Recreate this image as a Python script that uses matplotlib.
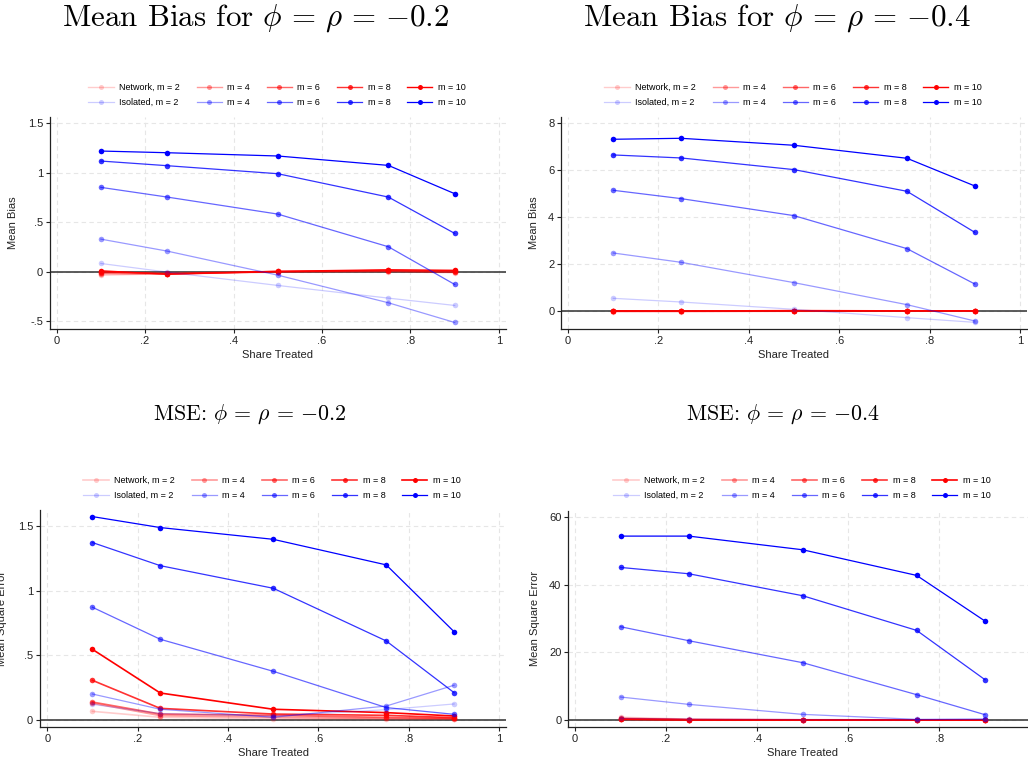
import matplotlib
matplotlib.use("Agg")
import matplotlib.pyplot as plt

# ---------------------------------------------------------------- data
share = [0.1, 0.25, 0.5, 0.75, 0.9]
m_values = [2, 4, 6, 8, 10]
x_ticks = [0, 0.2, 0.4, 0.6, 0.8, 1]
x_tick_labels = ["0", ".2", ".4", ".6", ".8", "1"]

# Mean bias, phi = rho = -0.2 (rows: m = 2, 4, 6, 8, 10)
bias02_network = [
    [-0.035, -0.020, -0.005, 0.000, -0.010],
    [-0.020, -0.025, 0.000, 0.005, -0.005],
    [-0.010, -0.015, 0.005, 0.010, 0.000],
    [0.000, -0.020, 0.000, 0.015, 0.010],
    [0.010, -0.025, 0.005, 0.020, 0.015],
]
bias02_isolated = [
    [0.084, -0.003, -0.138, -0.266, -0.340],
    [0.330, 0.209, -0.034, -0.313, -0.512],
    [0.853, 0.755, 0.583, 0.253, -0.128],
    [1.119, 1.072, 0.991, 0.755, 0.388],
    [1.220, 1.203, 1.170, 1.075, 0.789],
]

# Mean bias, phi = rho = -0.4
bias04_network = [
    [-0.03, -0.03, -0.02, -0.01, -0.01],
    [-0.02, -0.02, -0.01, 0.00, 0.00],
    [-0.01, -0.01, 0.00, 0.00, 0.00],
    [0.00, 0.00, 0.01, 0.01, 0.01],
    [0.01, 0.00, 0.02, 0.01, 0.01],
]
bias04_isolated = [
    [0.540, 0.384, 0.071, -0.284, -0.483],
    [2.472, 2.075, 1.208, 0.270, -0.426],
    [5.144, 4.789, 4.064, 2.657, 1.151],
    [6.650, 6.522, 6.025, 5.101, 3.353],
    [7.318, 7.360, 7.062, 6.508, 5.329],
]

# Mean square error, phi = rho = -0.2
mse02_network = [
    [0.067, 0.021, 0.010, 0.008, 0.006],
    [0.130, 0.034, 0.021, 0.012, 0.010],
    [0.139, 0.046, 0.036, 0.020, 0.012],
    [0.307, 0.090, 0.046, 0.036, 0.018],
    [0.547, 0.209, 0.083, 0.057, 0.031],
]
mse02_isolated = [
    [0.121, 0.050, 0.030, 0.080, 0.124],
    [0.201, 0.083, 0.021, 0.108, 0.269],
    [0.873, 0.625, 0.377, 0.096, 0.044],
    [1.374, 1.195, 1.020, 0.612, 0.212],
    [1.575, 1.490, 1.399, 1.201, 0.684],
]

# Mean square error, phi = rho = -0.4
mse04_network = [
    [0.80, 0.25, 0.10, 0.05, 0.05],
    [0.50, 0.15, 0.06, 0.03, 0.03],
    [0.35, 0.10, 0.04, 0.02, 0.02],
    [0.25, 0.07, 0.03, 0.02, 0.01],
    [0.20, 0.06, 0.03, 0.01, 0.01],
]
mse04_isolated = [
    [0.50, 0.30, 0.15, 0.10, 0.20],
    [6.79, 4.62, 1.67, 0.20, 0.30],
    [27.54, 23.41, 16.92, 7.48, 1.57],
    [45.05, 43.18, 36.69, 26.46, 11.90],
    [54.30, 54.30, 50.26, 42.69, 29.21],
]

network_labels = ["Network, m = 2", "m = 4", "m = 6", "m = 8", "m = 10"]
isolated_labels = ["Isolated, m = 2", "m = 4", "m = 6", "m = 8", "m = 10"]

# ---------------------------------------------------------------- style
plt.rcParams["font.family"] = ["Liberation Sans", "DejaVu Sans"]
plt.rcParams["mathtext.fontset"] = "cm"

W, H = 1028, 765
fig = plt.figure(figsize=(W / 100, H / 100), dpi=100)

opacity = [0.2, 0.4, 0.6, 0.8, 1.0]
RED = (1.0, 0.0, 0.0)
BLUE = (0.0, 0.0, 1.0)


def px_rect(x0, y0, x1, y1):
    """Axes rectangle from pixel corners (top-left origin)."""
    return [x0 / W, 1 - y1 / H, (x1 - x0) / W, (y1 - y0) / H]


panels = [
    dict(rect=px_rect(50, 116.7, 506, 329), xlim=(-0.015, 1.016), ylim=(-0.578, 1.567),
         yticks=[-0.5, 0, 0.5, 1, 1.5], ylabels=["-.5", "0", ".5", "1", "1.5"],
         ylabel="Mean Bias", ylabel_x=-0.081, net=bias02_network, iso=bias02_isolated,
         title=r"Mean Bias for $\phi\,=\,\rho\,=\,{-}0.2$", title_xy=(256, 26),
         title_size=22.3, legend_xy=(277, 95), red_lw=1.0),
    dict(rect=px_rect(561.3, 116.7, 1026.7, 329.3), xlim=(-0.015, 1.015), ylim=(-0.78, 8.28),
         yticks=[0, 2, 4, 6, 8], ylabels=["0", "2", "4", "6", "8"],
         ylabel="Mean Bias", ylabel_x=-0.0587, net=bias04_network, iso=bias04_isolated,
         title=r"Mean Bias for $\phi\,=\,\rho\,=\,{-}0.4$", title_xy=(777, 26),
         title_size=22.3, legend_xy=(793, 95), red_lw=1.0),
    dict(rect=px_rect(40, 510, 506, 726.7), xlim=(-0.016, 1.015), ylim=(-0.052, 1.626),
         yticks=[0, 0.5, 1, 1.5], ylabels=["0", ".5", "1", "1.5"],
         ylabel="Mean Square Error", ylabel_x=-0.0826, net=mse02_network, iso=mse02_isolated,
         title=r"MSE: $\phi\,=\,\rho\,=\,{-}0.2$", title_xy=(250, 420), title_size=15.8,
         legend_xy=(272, 488), red_lw=1.2),
    dict(rect=px_rect(568.3, 510.7, 1037.4, 726.7), xlim=(-0.0147, 1.015), ylim=(-1.97, 61.8),
         yticks=[0, 20, 40, 60], ylabels=["0", "20", "40", "60"],
         ylabel="Mean Square Error", ylabel_x=-0.0716, net=mse04_network, iso=mse04_isolated,
         title=r"MSE: $\phi\,=\,\rho\,=\,{-}0.4$", title_xy=(783, 420), title_size=15.8,
         legend_xy=(802, 488), red_lw=1.2),
]

for p in panels:
    ax = fig.add_axes(p["rect"])
    ax.set_xlim(*p["xlim"])
    ax.set_ylim(*p["ylim"])

    ax.axhline(0, color="#303030", lw=1.1, zorder=1.5)

    net_lines, iso_lines = [], []
    for k in range(len(m_values)):
        (ln,) = ax.plot(share, p["net"][k], color=RED, alpha=opacity[k], lw=p["red_lw"],
                        marker="o", ms=4.0, mew=0, zorder=2)
        net_lines.append(ln)
    for k in range(len(m_values)):
        (ln,) = ax.plot(share, p["iso"][k], color=BLUE, alpha=opacity[k], lw=0.9,
                        marker="o", ms=4.0, mew=0, zorder=2)
        iso_lines.append(ln)

    handles, labels = [], []
    for k in range(len(m_values)):
        handles += [net_lines[k], iso_lines[k]]
        labels += [network_labels[k], isolated_labels[k]]
    ax.legend(handles, labels, ncol=5, loc="center",
              bbox_to_anchor=(p["legend_xy"][0] / W, 1 - p["legend_xy"][1] / H),
              bbox_transform=fig.transFigure, frameon=False, fontsize=6.5,
              handlelength=2.8, handletextpad=0.6, columnspacing=1.85,
              labelspacing=0.72, borderpad=0, borderaxespad=0, markerscale=0.9)

    # only ticks that fall inside the drawn figure area
    span = p["xlim"][1] - p["xlim"][0]
    shown = [(t, lab) for t, lab in zip(x_ticks, x_tick_labels)
             if p["rect"][0] + (t - p["xlim"][0]) / span * p["rect"][2] < 1.0]
    ax.set_xticks([t for t, _ in shown], [lab for _, lab in shown])
    ax.set_yticks(p["yticks"], p["ylabels"])
    ax.tick_params(axis="both", direction="out", length=3, width=0.8, pad=2,
                   labelsize=8, colors="#222222")
    ax.grid(True, color="#e6e6e6", ls=(0, (4, 3)), lw=0.8)
    ax.set_axisbelow(True)

    for side in ("top", "right"):
        ax.spines[side].set_visible(False)
    for side in ("left", "bottom"):
        ax.spines[side].set_linewidth(0.9)
        ax.spines[side].set_color("#222222")

    ax.set_xlabel("Share Treated", fontsize=8, color="#222222")
    ax.xaxis.set_label_coords(0.5, -0.123)
    ax.xaxis.label.set_va("center")
    ax.set_ylabel(p["ylabel"], fontsize=8, color="#222222")
    ax.yaxis.set_label_coords(p["ylabel_x"], 0.5)
    ax.yaxis.label.set_va("center")

    fig.text(p["title_xy"][0] / W, 1 - p["title_xy"][1] / H, p["title"],
             ha="center", va="baseline", fontsize=p["title_size"], family="cmr10")

fig.savefig("out.png", dpi=100)
